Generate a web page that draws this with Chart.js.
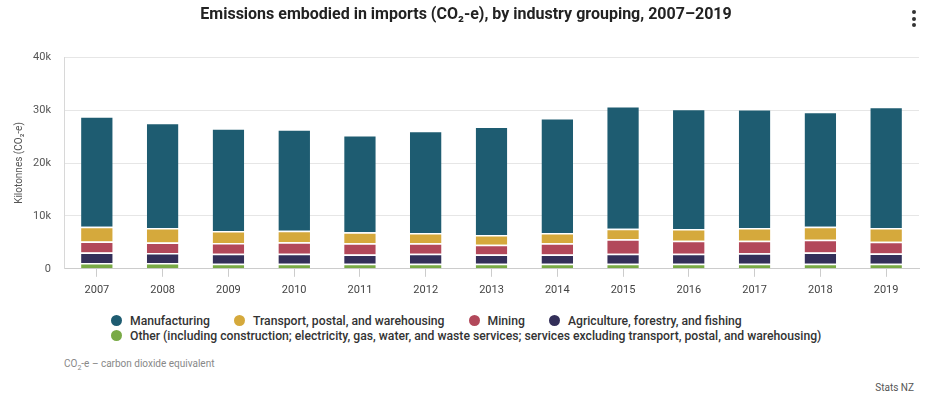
<!DOCTYPE html>
<html>
<head>
<meta charset="utf-8">
<script src="https://cdn.jsdelivr.net/npm/chart.js@4.4.0/dist/chart.umd.min.js"></script>
<style>
    body { margin: 0; background: #fff; font-family: Roboto, "Open Sans", sans-serif; }
    #wrap { position: relative; width: 935px; height: 399px; overflow: hidden; }
    #chartBox { position: absolute; left: 0; top: 0; width: 935px; height: 304px; }
    #menu { position: absolute; left: 912px; top: 10px; width: 6px; }
    #menu span { display: block; width: 4px; height: 4px; border-radius: 50%; background: #333; margin-bottom: 2.5px; }
    #legend { position: absolute; left: 111px; top: 313px; width: 760px; display: flex; flex-wrap: wrap; font-size: 12.2px; font-weight: 500; color: #333; }
    .legend-item { display: flex; align-items: center; height: 15px; margin-right: 24px; white-space: nowrap; }
    .legend-dot { width: 11px; height: 11px; border-radius: 50%; margin-right: 8px; }
    #note { position: absolute; left: 64px; top: 358px; font-size: 10px; color: #888; }
    #source { position: absolute; right: 21px; top: 382px; font-size: 10px; color: #555; }
</style>
</head>
<body>
<div id="wrap">
    <div id="chartBox"><canvas id="importsChart"></canvas></div>
    <div id="menu"><span></span><span></span><span></span></div>
    <div id="legend"></div>
    <div id="note">CO<sub style="font-size:7px">2</sub>-e – carbon dioxide equivalent</div>
    <div id="source">Stats NZ</div>
</div>
<script>
// Years on the x axis
const years = ['2007', '2008', '2009', '2010', '2011', '2012', '2013', '2014', '2015', '2016', '2017', '2018', '2019'];

// Kilotonnes CO2-e
const manufacturing = [20900, 19900, 19400, 19200, 18400, 19300, 20500, 21700, 23200, 22700, 22500, 21700, 22900];
const transport = [2770, 2710, 2260, 2150, 2070, 1960, 1880, 1960, 2000, 2260, 2450, 2500, 2640];
const mining = [2070, 2000, 2070, 2200, 2130, 2000, 1830, 2130, 2750, 2450, 2330, 2390, 2200];
const agriculture = [2000, 1880, 1880, 1880, 1750, 1880, 1750, 1750, 1880, 1880, 2000, 2130, 1940];
const other = [1100, 1100, 950, 950, 950, 950, 950, 950, 950, 950, 950, 950, 950];

const yTicks = [0, 10000, 20000, 30000, 40000];
const yTickLabels = ['0', '10k', '20k', '30k', '40k'];

// Series in legend order
const series = [
    { label: 'Manufacturing', data: manufacturing, color: '#1e5c71' },
    { label: 'Transport, postal, and warehousing', data: transport, color: '#d5a93c' },
    { label: 'Mining', data: mining, color: '#b2485a' },
    { label: 'Agriculture, forestry, and fishing', data: agriculture, color: '#332f59' },
    { label: 'Other (including construction; electricity, gas, water, and waste services; services excluding transport, postal, and warehousing)', data: other, color: '#79aa46' }
];

// Stack from the bottom up: Other first, Manufacturing on top
const datasets = series.slice().reverse().map(s => ({
    label: s.label,
    data: s.data,
    backgroundColor: s.color,
    borderColor: '#ffffff',
    borderWidth: { top: 1.5, left: 0, right: 0, bottom: 0 },
    borderSkipped: 'bottom',
    barPercentage: 0.6,
    categoryPercentage: 0.8
}));

new Chart(document.getElementById('importsChart'), {
    type: 'bar',
    data: { labels: years, datasets: datasets },
    options: {
        responsive: true,
        maintainAspectRatio: false,
        animation: false,
        layout: { padding: { left: 13, right: 16, top: 4, bottom: 0 } },
        plugins: {
            legend: { display: false },
            tooltip: { enabled: false },
            title: {
                display: true,
                text: 'Emissions embodied in imports (CO₂-e), by industry grouping, 2007–2019',
                color: '#222',
                font: { family: 'Roboto, sans-serif', size: 16, weight: 'bold' },
                padding: { top: 1, bottom: 33 }
            }
        },
        scales: {
            x: {
                stacked: true,
                grid: { display: true, drawOnChartArea: false, offset: false, color: '#cccccc', tickLength: 8 },
                border: { color: '#cccccc' },
                ticks: { color: '#444', font: { family: 'Roboto, sans-serif', size: 11 }, padding: 7 }
            },
            y: {
                stacked: true,
                min: 0,
                max: 40000,
                afterBuildTicks: axis => { axis.ticks = yTicks.map(v => ({ value: v })); },
                afterFit: axis => { axis.width = 51; },
                grid: { color: '#e6e6e6', drawTicks: false },
                border: { color: '#d8d8d8' },
                ticks: {
                    color: '#555',
                    padding: 13,
                    font: { family: 'Roboto, sans-serif', size: 11 },
                    callback: value => yTickLabels[yTicks.indexOf(value)]
                },
                title: {
                    display: true,
                    text: 'Kilotonnes (CO₂-e)',
                    color: '#555',
                    font: { family: 'Roboto, sans-serif', size: 10 },
                    padding: { top: 0, bottom: 0 }
                }
            }
        }
    }
});

// HTML legend, same order as the reference
const legendEl = document.getElementById('legend');
legendEl.innerHTML = series.map(s => `
    <div class="legend-item">
        <span class="legend-dot" style="background:${s.color}"></span>${s.label}
    </div>
`).join('');
</script>
</body>
</html>
